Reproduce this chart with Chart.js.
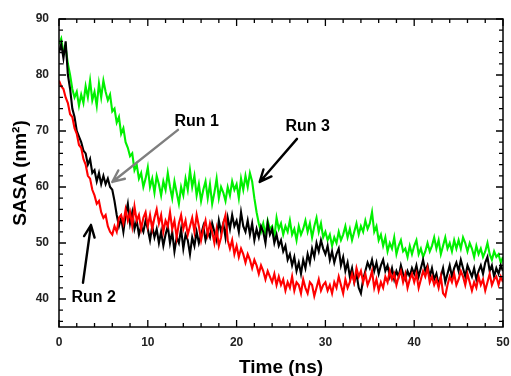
<!DOCTYPE html>
<html>
<head>
<meta charset="utf-8">
<script src="https://cdn.jsdelivr.net/npm/chart.js@4.4.0/dist/chart.umd.min.js"></script>
<style>
  html, body { margin: 0; padding: 0; background: #fff; }
  #wrap { width: 511px; height: 376px; }
</style>
</head>
<body>
<div id="wrap"><canvas id="sasaChart" width="511" height="376"></canvas></div>
<script>
// ===== Data (SASA in nm^2, one sample every 0.25 ns) =====
const timeStep = 0.25;

const run1 = [
  84, 85.5, 83, 86, 80, 77.5, 74, 72.5, 70, 69, 68, 66.5, 66, 64, 65, 62.5, 63, 61, 62.5, 60.5,
  62, 60.5, 61.5, 60, 59.5, 57.5, 55, 53, 54.5, 52, 55, 57, 53.5, 55.5, 52.5, 54, 51.5, 53, 52, 54,
  52.5, 50.5, 53, 51, 52.5, 50, 52, 49.5, 51.5, 53, 50, 52, 48.5, 51, 50, 52.5, 49, 51.5, 50.5, 48,
  51, 49.5, 52, 50, 51.5, 53, 50.5, 52, 51, 53.5, 52, 50.5, 54, 52, 53.5, 51, 54.5, 52.5, 55, 53,
  54, 52, 55.5, 53, 52, 54, 51.5, 53.5, 50.5, 52.5, 51, 53, 52, 50, 53.5, 51.5, 52.5, 50, 51.5, 49.5,
  50.5, 48.5, 49.5, 47, 48, 46, 47.5, 45, 46.5, 44.5, 47, 45.5, 48, 46.5, 49, 47.5, 50, 48.5, 50.5, 49,
  48, 49.5, 47, 48.5, 46.5, 48, 49, 46, 47.5, 45, 46.5, 44, 45.5, 43, 44.5, 42, 41, 43.5, 45, 46.5,
  45.5, 47, 45, 46.5, 44.5, 46, 47, 45, 46, 44, 45.5, 43.5, 45, 44, 46, 44.5, 43.5, 45, 44, 45.5,
  44.5, 46, 44, 45.5, 47, 45, 46, 44, 45.5, 43.5, 44.5, 42.5, 44, 45.5, 43, 44.5, 46, 44, 45.5, 46.5,
  45, 47, 45.5, 44, 46, 45, 44, 45.5, 43.5, 45, 46, 44.5, 46.5, 47.5, 45, 46, 44, 45.5, 44.5, 46, 45
];

const run2 = [
  79, 78, 77.5, 76, 75, 73, 72.5, 70.5, 69.5, 67.5, 67, 65, 64, 62, 61.5, 59.5, 58.5, 57, 57.5, 55.5,
  54.5, 55, 53, 52, 51.5, 53, 52, 54.5, 55, 53.5, 56, 54, 55.5, 53, 56.5, 54, 55, 52.5, 54.5, 55.5,
  53, 55, 52.5, 54.5, 56, 53.5, 55, 52, 54, 53, 55.5, 52.5, 54, 51, 53.5, 55, 52.5, 54, 51.5, 53,
  54.5, 52, 55, 53, 50.5, 52.5, 54, 51.5, 53.5, 52, 50, 52.5, 49.5, 51, 53.5, 55, 50.5, 49, 50.5, 48,
  49.5, 47.5, 49, 48, 46.5, 48, 47, 45.5, 47, 46, 44.5, 46, 45, 43.5, 45, 44, 43, 44.5, 42.5, 44,
  42.5, 43.5, 41.5, 43, 42, 44, 41.5, 43, 42.5, 41, 43.5, 42, 41, 43, 42.5, 40.5, 42, 43.5, 41.5, 42.5,
  43, 41.5, 42.5, 41, 43, 42, 44, 42.5, 41, 43.5, 42, 43, 44.5, 43, 45.5, 44, 45, 43, 44.5, 42.5,
  43.5, 45, 42, 43.5, 41.5, 43, 42, 44, 43, 45, 43.5, 44.5, 42.5, 44, 45, 43, 44.5, 42, 43.5, 44.5,
  43, 44.5, 42, 43.5, 45, 44, 45.5, 43, 44, 42.5, 43.5, 42, 44, 41, 40.5, 42.5, 44, 43, 44.5, 42.5,
  43.5, 45, 44, 42.5, 44.5, 43, 41.5, 43, 42, 44, 42.5, 43.5, 41.5, 43, 44.5, 42.5, 43.5, 44, 42.5, 44, 43
];

const run3 = [
  85.5, 86.5, 84, 85, 82, 80, 77.5, 76, 77, 74.5, 76.5, 75, 78, 76, 79, 75.5, 77, 74.5, 78.5, 76,
  79, 77, 75.5, 76.5, 73.5, 74, 71.5, 72.5, 69.5, 70.5, 68, 67, 65.5, 66, 63, 64, 61.5, 62.5, 60, 61.5,
  63.5, 60, 61.5, 59, 62, 60.5, 58.5, 61, 59.5, 62.5, 60, 58, 61, 59, 57, 60, 58.5, 61.5, 59.5, 63,
  60, 62, 58.5, 60.5, 57.5, 59.5, 61, 58, 60.5, 57, 59, 61.5, 58, 60, 59, 57.5, 60, 58.5, 61, 59.5,
  60.5, 58, 61.5, 59.5, 62, 60, 62.5, 61, 58, 55.5, 53.5, 52, 53.5, 51.5, 54, 52.5, 53, 51, 54.5, 52.5,
  53.5, 51.5, 53, 52, 54, 51.5, 52.5, 50.5, 53, 51.5, 52.5, 54, 52, 53.5, 51, 53, 54.5, 52, 53.5, 51,
  52, 50.5, 51.5, 49.5, 51, 50, 52, 50.5, 51.5, 53, 51, 52.5, 50.5, 52, 53.5, 51.5, 53, 52, 54, 52.5,
  53.5, 55.5, 52, 53, 50.5, 51.5, 49.5, 51, 48.5, 50, 49, 51, 48, 49.5, 50.5, 48.5, 49, 47.5, 49.5, 48,
  49.5, 50.5, 48, 49, 47.5, 48.5, 50, 48.5, 49.5, 51, 49, 50.5, 48, 49.5, 51, 49, 50, 48.5, 50.5, 49,
  50.5, 49, 51, 50, 48.5, 50, 49, 47.5, 49.5, 48, 49, 47.5, 48.5, 50, 48, 47, 48.5, 47.5, 48, 46.5, 47.5
];

const xTicks = [0, 10, 20, 30, 40, 50];
const yTicks = [40, 50, 60, 70, 80, 90];

// callouts, in data units (ns, nm^2)
const callouts = [
  { text: 'Run 1', at: [15.5, 71.6], from: [13.4, 70.2], to: [6.0, 60.9], arrowColor: '#7f7f7f' },
  { text: 'Run 3', at: [28.0, 70.7], from: [26.8, 68.6], to: [22.6, 60.9], arrowColor: '#000' },
  { text: 'Run 2', at: [3.9, 40.2], from: [2.7, 42.9], to: [3.6, 53.2], arrowColor: '#000' }
];

function toPoints(values) {
  return values.map((v, i) => ({ x: i * timeStep, y: v }));
}

// ===== Frame with inward ticks on all four sides =====
const framePlugin = {
  id: 'frame',
  afterDraw(chart) {
    const { ctx, chartArea: a, scales } = chart;
    const xs = scales.x, ys = scales.y;
    ctx.save();
    ctx.strokeStyle = '#000';
    ctx.lineWidth = 1.5;
    ctx.strokeRect(a.left, a.top, a.right - a.left, a.bottom - a.top);
    ctx.lineWidth = 1.3;
    ctx.beginPath();
    for (let t = xs.min; t <= xs.max + 0.001; t += 2) {
      const px = xs.getPixelForValue(t);
      const len = t % 10 === 0 ? 7 : 4;
      ctx.moveTo(px, a.bottom); ctx.lineTo(px, a.bottom - len);
      ctx.moveTo(px, a.top); ctx.lineTo(px, a.top + len);
    }
    for (let v = 36; v <= ys.max + 0.001; v += 2) {
      const py = ys.getPixelForValue(v);
      const len = v % 10 === 0 ? 7 : 4;
      ctx.moveTo(a.left, py); ctx.lineTo(a.left + len, py);
      ctx.moveTo(a.right, py); ctx.lineTo(a.right - len, py);
    }
    ctx.stroke();
    ctx.restore();
  }
};

// ===== Run labels and arrows =====
const calloutPlugin = {
  id: 'callouts',
  afterDatasetsDraw(chart) {
    const { ctx, scales } = chart;
    const px = p => [scales.x.getPixelForValue(p[0]), scales.y.getPixelForValue(p[1])];
    ctx.save();
    callouts.forEach(c => {
      const [x1, y1] = px(c.from);
      const [x2, y2] = px(c.to);
      ctx.strokeStyle = c.arrowColor;
      ctx.lineWidth = 2.4;
      ctx.lineCap = 'round';
      ctx.beginPath();
      ctx.moveTo(x1, y1); ctx.lineTo(x2, y2);
      const ang = Math.atan2(y2 - y1, x2 - x1);
      const head = 13;
      for (const s of [-1, 1]) {
        ctx.moveTo(x2, y2);
        ctx.lineTo(x2 - head * Math.cos(ang + s * 0.42), y2 - head * Math.sin(ang + s * 0.42));
      }
      ctx.stroke();

      const [tx, ty] = px(c.at);
      ctx.fillStyle = '#000';
      ctx.font = 'bold 16px "Liberation Sans", Arial, sans-serif';
      ctx.textAlign = 'center';
      ctx.textBaseline = 'middle';
      ctx.fillText(c.text, tx, ty);
    });
    ctx.restore();
  }
};

const fontFamily = '"Liberation Sans", Arial, sans-serif';
const ctx = document.getElementById('sasaChart').getContext('2d');
const sasaChart = new Chart(ctx, {
  type: 'line',
  data: {
    datasets: [
      { label: 'Run 3', data: toPoints(run3), borderColor: '#00f000', order: 3 },
      { label: 'Run 1', data: toPoints(run1), borderColor: '#000000', order: 2 },
      { label: 'Run 2', data: toPoints(run2), borderColor: '#ff0000', order: 1 }
    ]
  },
  options: {
    responsive: false,
    animation: false,
    devicePixelRatio: 1,
    layout: { padding: { left: 0, right: 8, top: 19, bottom: 0 } },
    elements: {
      line: { borderWidth: 2.1, tension: 0, fill: false },
      point: { radius: 0 }
    },
    plugins: { legend: { display: false }, tooltip: { enabled: false } },
    scales: {
      x: {
        type: 'linear',
        min: 0,
        max: 50,
        grid: { display: false, drawTicks: false },
        border: { display: false },
        afterBuildTicks: s => { s.ticks = xTicks.map(v => ({ value: v })); },
        afterFit: s => { s.height = 49; s.paddingLeft = 0; s.paddingRight = 7; },
        ticks: {
          padding: 8,
          color: '#222',
          font: { family: fontFamily, size: 12, weight: 'bold' },
          maxRotation: 0
        },
        title: {
          display: true,
          text: 'Time (ns)',
          color: '#000',
          padding: { top: 0, bottom: -3 },
          font: { family: fontFamily, size: 19, weight: 'bold' }
        }
      },
      y: {
        min: 35,
        max: 90,
        grid: { display: false, drawTicks: false },
        border: { display: false },
        afterBuildTicks: s => { s.ticks = yTicks.map(v => ({ value: v })); },
        afterFit: s => { s.width = 59; },
        ticks: {
          padding: 10,
          color: '#222',
          font: { family: fontFamily, size: 12, weight: 'bold' }
        },
        title: {
          display: true,
          text: 'SASA (nm²)',
          color: '#000',
          padding: { top: 9, bottom: 0 },
          font: { family: fontFamily, size: 19, weight: 'bold' }
        }
      }
    }
  },
  plugins: [framePlugin, calloutPlugin]
});
</script>
</body>
</html>
